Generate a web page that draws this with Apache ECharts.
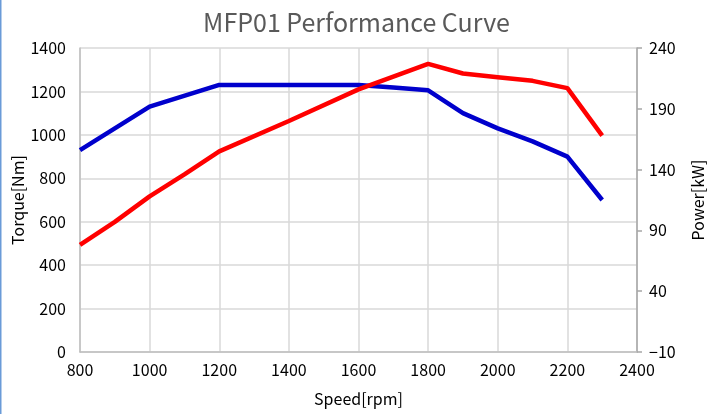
<!DOCTYPE html>
<html><head><meta charset="utf-8">
<script src="https://cdn.jsdelivr.net/npm/echarts@6/dist/echarts.min.js"></script>
<style>html,body{margin:0;padding:0;background:#fff}#c{width:713px;height:414px}</style>
</head><body><div id="c"></div>
<script>
const speedTorque = [800, 1000, 1200, 1400, 1600, 1700, 1800, 1900, 2000, 2100, 2200, 2300];
const torque      = [930, 1130, 1230, 1230, 1230, 1218, 1205, 1100, 1030, 970, 900, 700];
const speedPower  = [800, 900, 1000, 1100, 1200, 1400, 1600, 1800, 1900, 2000, 2100, 2200, 2300];
const power       = [78, 97, 118, 136, 155, 180, 206, 227, 219, 216, 213, 207, 168];
const xTicks = [800, 1000, 1200, 1400, 1600, 1800, 2000, 2200, 2400];

const chart = echarts.init(document.getElementById('c'));
const font = 'Noto Sans CJK KR';
const fmt = v => (v < 0 ? '\u2212' + Math.abs(v) : String(v));
chart.setOption({
  animation: false,
  graphic: [{ type: 'rect', left: 0, top: 0, shape: { width: 1.5, height: 414 }, style: { fill: '#6a9bd8' } }],
  title: { text: 'MFP01 Performance Curve', left: 'center', top: 5,
    textStyle: { fontFamily: font, fontSize: 25, fontWeight: 'normal', color: '#595959' } },
  grid: { left: 80, right: 76, top: 48, bottom: 62, outerBoundsMode: 'none', containLabel: false },
  xAxis: { type: 'value', min: xTicks[0], max: xTicks[xTicks.length-1], interval: 200,
    name: 'Speed[rpm]', nameLocation: 'middle', nameGap: 39, nameMoveOverlap: false,
    nameTextStyle: { fontFamily: font, fontSize: 16, color: '#000' },
    axisLine: { lineStyle: { color: '#bfbfbf', width: 1.5 } }, axisTick: { show: false },
    axisLabel: { fontFamily: font, fontSize: 16, color: '#000', margin: 10, formatter: fmt },
    splitLine: { show: true, lineStyle: { color: '#d9d9d9', width: 1.5 } } },
  yAxis: [
    { type: 'value', min: 0, max: 1400, interval: 200, name: 'Torque[Nm]', nameLocation: 'middle', nameGap: 54,
      nameMoveOverlap: false,
      nameTextStyle: { fontFamily: font, fontSize: 16, color: '#000' },
      axisLine: { show: true, lineStyle: { color: '#bfbfbf', width: 1.5 } }, axisTick: { show: false },
      axisLabel: { fontFamily: font, fontSize: 16, color: '#000', margin: 14, formatter: fmt },
      splitLine: { show: true, lineStyle: { color: '#d9d9d9', width: 1.5 } } },
    { type: 'value', min: -10, max: 240, interval: 50, name: 'Power[kW]', nameLocation: 'middle', nameGap: 53,
      position: 'right', nameMoveOverlap: false,
      nameTextStyle: { fontFamily: font, fontSize: 16, color: '#000' },
      axisLine: { show: true, lineStyle: { color: '#a6a6a6', width: 1.5 } },
      axisTick: { show: true, length: 5, lineStyle: { color: '#a6a6a6', width: 1.5 } },
      axisLabel: { fontFamily: font, fontSize: 16, color: '#000', margin: 12, formatter: fmt },
      splitLine: { show: false } }
  ],
  series: [
    { type: 'line', yAxisIndex: 0, data: speedTorque.map((s,i)=>[s, torque[i]]), showSymbol: false,
      lineStyle: { color: '#0000cc', width: 4.5 }, itemStyle: { color: '#0000cc' }, z: 2 },
    { type: 'line', yAxisIndex: 1, data: speedPower.map((s,i)=>[s, power[i]]), showSymbol: false,
      lineStyle: { color: '#ff0000', width: 4.5 }, itemStyle: { color: '#ff0000' }, z: 3 }
  ]
});
</script></body></html>
